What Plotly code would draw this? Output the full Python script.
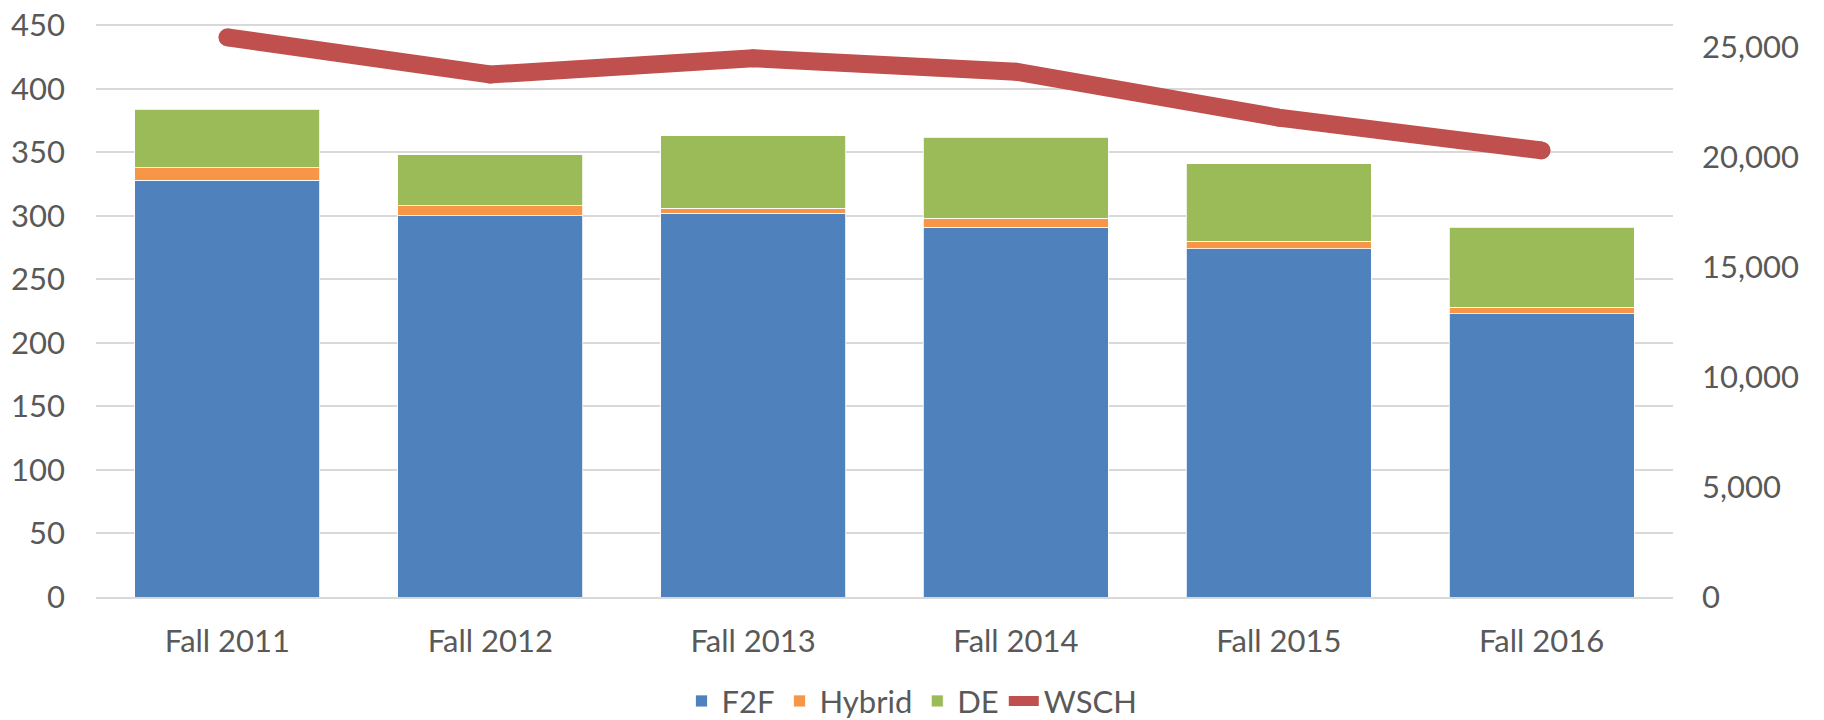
import plotly.graph_objects as go

categories = ["Fall 2011", "Fall 2012", "Fall 2013", "Fall 2014", "Fall 2015", "Fall 2016"]
f2f = [328, 300, 302, 291, 274, 223]
hybrid = [10, 8, 4, 7, 6, 5]
de = [46, 40, 57, 64, 61, 63]
wsch = [25450, 23760, 24500, 23890, 21800, 20310]

left_ticks = list(range(0, 451, 50))
right_ticks = list(range(0, 25001, 5000))

FONT = "Lato, Carlito, Calibri, sans-serif"
TXT = "#595959"
GRID = "#D9D9D9"
FS = 31

fig = go.Figure()
for name, vals, col in [("F2F", f2f, "#4F81BD"), ("Hybrid", hybrid, "#F79646"), ("DE", de, "#9BBB59")]:
    fig.add_trace(go.Bar(x=categories, y=vals, name=name, marker=dict(color=col, line=dict(color="white", width=0.8))))

fig.add_trace(go.Scatter(x=categories, y=wsch, name="WSCH", yaxis="y2", mode="lines",
                         line=dict(color="#C0504D", width=18)))
fig.add_trace(go.Scatter(x=categories, y=wsch, yaxis="y2", mode="markers", showlegend=False,
                         hoverinfo="skip", marker=dict(color="#C0504D", size=18, line=dict(width=0))))

fig.update_layout(
    width=1824, height=720,
    barmode="stack", bargap=0.296,
    paper_bgcolor="white", plot_bgcolor="white",
    margin=dict(l=96, r=151, t=24, b=123, autoexpand=False),
    font=dict(family=FONT, size=FS, color=TXT),
    xaxis=dict(showgrid=False, showline=True, linecolor=GRID, linewidth=1.5, ticks="",
               tickfont=dict(size=FS, color=TXT), ticklabelstandoff=16, automargin=False),
    yaxis=dict(range=[0, 451], tickvals=left_ticks, showgrid=True, gridcolor=GRID, gridwidth=1.5,
               zeroline=False, ticks="", tickfont=dict(size=FS, color=TXT), ticklabelstandoff=30,
               automargin=False, ticklabeloverflow="allow"),
    yaxis2=dict(range=[0, 26058], tickvals=right_ticks, tickformat=",", overlaying="y", side="right",
                showgrid=False, zeroline=False, ticks="", tickfont=dict(size=FS, color=TXT),
                ticklabelstandoff=28, automargin=False, ticklabeloverflow="allow"),
    legend=dict(orientation="h", xref="container", yref="container", x=0.5, xanchor="center",
                y=0.026, yanchor="middle", font=dict(size=FS, color=TXT), traceorder="normal",
                itemwidth=30, bgcolor="rgba(0,0,0,0)"),
    showlegend=True,
)

fig.write_html("out.html", config={"displayModeBar": False},
               post_script="document.body.style.margin='0';")
